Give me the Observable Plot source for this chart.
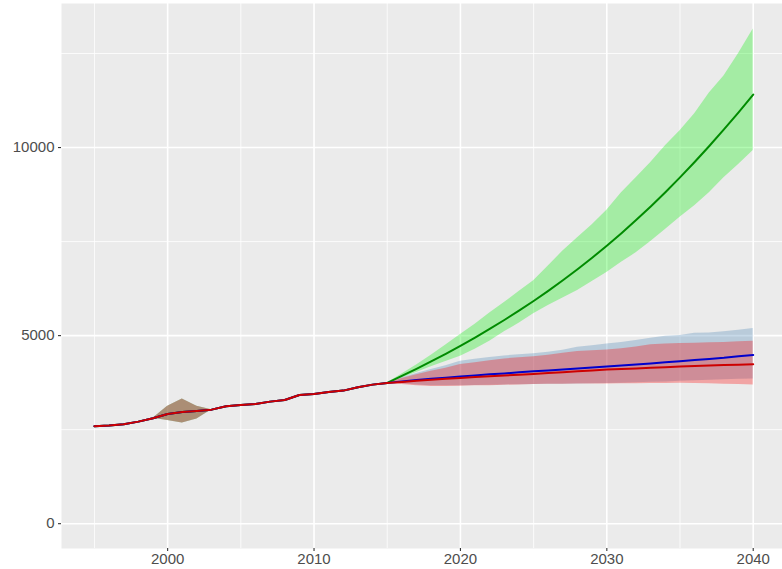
<!DOCTYPE html>
<html>
<head>
<meta charset="utf-8">
<script src="https://cdn.jsdelivr.net/npm/d3@7"></script>
<script src="https://cdn.jsdelivr.net/npm/@observablehq/plot@0.6"></script>
<style>
  html, body { margin: 0; padding: 0; background: white; }
  #chart { width: 782px; height: 569px; }
</style>
</head>
<body>
<div id="chart"></div>
<script>
// ---- Data ----
const histYears = [1995,1996,1997,1998,1999,2000,2001,2002,2003,2004,2005,2006,2007,2008,2009,2010,2011,2012,2013,2014,2015];
const histValue = [2590,2607,2641,2713,2801,2918,2970,2997,3032,3120,3157,3184,3245,3290,3423,3450,3503,3538,3626,3697,3743];
const histLower = [2590,2607,2641,2713,2801,2740,2678,2785,3032,3120,3157,3184,3245,3290,3423,3450,3503,3538,3626,3697,3743];
const histUpper = [2590,2607,2641,2713,2801,3120,3317,3120,3032,3120,3157,3184,3245,3290,3423,3450,3503,3538,3626,3697,3743];

const fcYears = [2016,2017,2018,2019,2020,2021,2022,2023,2024,2025,2026,2027,2028,2029,2030,2031,2032,2033,2034,2035,2036,2037,2038,2039,2040];

const greenMean  = [3928,4118,4314,4517,4728,4948,5177,5415,5663,5921,6190,6471,6764,7070,7390,7724,8072,8435,8813,9207,9617,10042,10482,10937,11407];
const greenLower = [3870,4020,4170,4310,4450,4640,4850,5100,5330,5580,5800,6000,6200,6440,6680,6950,7200,7500,7820,8150,8450,8800,9200,9550,9920];
const greenUpper = [3980,4220,4480,4750,5030,5300,5600,5880,6170,6460,6850,7250,7600,7950,8330,8800,9200,9600,10050,10450,10900,11450,11900,12500,13150];

const blueMean  = [3780,3820,3850,3880,3910,3940,3970,3995,4025,4052,4075,4100,4125,4150,4176,4205,4235,4260,4290,4318,4350,4380,4410,4450,4487];
const blueLower = [3720,3690,3670,3665,3665,3675,3680,3690,3695,3700,3705,3710,3715,3720,3725,3735,3745,3760,3770,3785,3800,3815,3825,3840,3848];
const blueUpper = [3880,3990,4100,4200,4320,4370,4420,4460,4490,4520,4560,4610,4690,4730,4780,4820,4870,4930,4980,5000,5060,5070,5100,5140,5190];

const redMean  = [3770,3800,3825,3850,3875,3897,3918,3940,3960,3981,4005,4028,4050,4073,4096,4112,4128,4144,4160,4176,4190,4203,4216,4228,4238];
const redLower = [3700,3670,3650,3650,3655,3665,3670,3680,3690,3700,3705,3710,3715,3715,3716,3718,3720,3725,3730,3732,3730,3720,3710,3700,3690];
const redUpper = [3860,3960,4050,4130,4230,4280,4330,4380,4410,4440,4480,4530,4580,4600,4620,4650,4700,4760,4780,4790,4800,4810,4820,4840,4850];

const xTicks = [2000, 2010, 2020, 2030, 2040];
const xMinor = [1995, 2005, 2015, 2025, 2035];
const yTicks = [0, 5000, 10000];
const yMinor = [2500, 7500, 12500];

const seriesNames = ["green", "blue", "red"];
const seriesMean  = [greenMean, blueMean, redMean];
const seriesLower = [greenLower, blueLower, redLower];
const seriesUpper = [greenUpper, blueUpper, redUpper];
const ribbonColors = {green: "#00EE00", blue: "steelblue", red: "red"};
const lineColors   = {green: "#008B00", blue: "#0000CD", red: "#CD0000"};

// ---- Build tables ----
function seriesTable(i) {
  const rows = histYears.map((y, j) => ({series: seriesNames[i], year: y, value: histValue[j], lo: histLower[j], hi: histUpper[j]}));
  fcYears.forEach((y, j) => rows.push({series: seriesNames[i], year: y, value: seriesMean[i][j], lo: seriesLower[i][j], hi: seriesUpper[i][j]}));
  return rows;
}
const tables = seriesNames.map((_, i) => seriesTable(i));

const marks = [
  Plot.frame({fill: "#EBEBEB", stroke: null}),
  Plot.ruleY(yMinor, {stroke: "white", strokeWidth: 0.8}),
  Plot.ruleX(xMinor, {stroke: "white", strokeWidth: 0.8}),
  Plot.ruleY(yTicks, {stroke: "white", strokeWidth: 1.6}),
  Plot.ruleX(xTicks, {stroke: "white", strokeWidth: 1.6})
];
tables.forEach((t, i) => {
  marks.push(Plot.areaY(t, {x: "year", y1: "lo", y2: "hi", fill: ribbonColors[seriesNames[i]], fillOpacity: 0.3}));
});
tables.forEach((t, i) => {
  marks.push(Plot.line(t, {x: "year", y: "value", stroke: lineColors[seriesNames[i]], strokeWidth: 2}));
});
marks.push(Plot.axisX(xTicks, {tickSize: 3, tickPadding: 2, tickFormat: d => String(d), stroke: "#333333", strokeWidth: 1.1, fill: "#4D4D4D", fontSize: 15}));
marks.push(Plot.axisY(yTicks, {tickSize: 3, tickPadding: 4, tickFormat: d => String(d), stroke: "#333333", strokeWidth: 1.1, fill: "#4D4D4D", fontSize: 15}));

const chart = Plot.plot({
  width: 782,
  height: 569,
  marginLeft: 61,
  marginRight: 0,
  marginTop: 3,
  marginBottom: 21,
  x: {domain: [1992.75, 2042], label: null},
  y: {domain: [-660, 13830], label: null},
  style: {fontFamily: "'Liberation Sans', Arial, sans-serif", fontSize: "15px", color: "#4D4D4D", background: "white"},
  marks
});
document.getElementById("chart").appendChild(chart);
</script>
</body>
</html>
